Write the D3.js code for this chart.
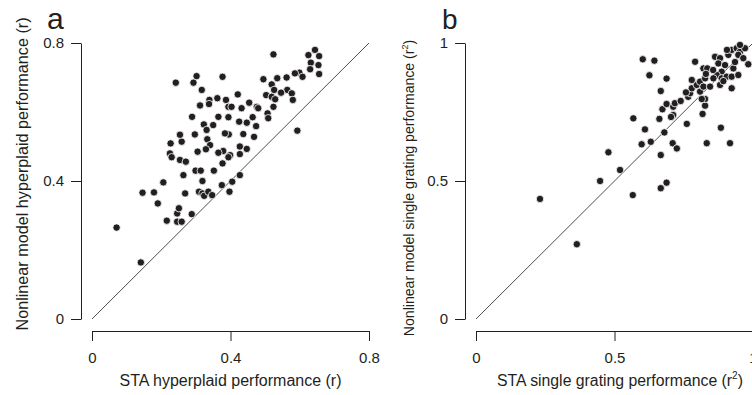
<!DOCTYPE html>
<html>
<head>
<meta charset="utf-8">
<script src="https://cdn.jsdelivr.net/npm/d3@7"></script>
<style>
  body { margin: 0; background: #fff; }
  svg { display: block; font-family: "Liberation Sans", Arial, sans-serif; }
  .axis path, .axis line { stroke: #231f20; stroke-width: 1; }
  .axis text { fill: #231f20; font-size: 15px; }
</style>
</head>
<body>
<div id="chart"></div>
<script>
// panel a: STA hyperplaid (x) vs nonlinear model hyperplaid (y), r
const hyperplaidSTA = [
  0.644, 0.625, 0.656, 0.524, 0.632, 0.654, 0.630, 0.656, 0.599, 0.608, 0.586, 0.562,
  0.535, 0.519, 0.495, 0.564, 0.546, 0.577, 0.526, 0.503, 0.519, 0.529, 0.580, 0.524,
  0.507, 0.509, 0.593, 0.421, 0.454, 0.432, 0.476, 0.480, 0.464, 0.474, 0.447, 0.437,
  0.468, 0.425, 0.377, 0.302, 0.293, 0.242, 0.317, 0.339, 0.338, 0.362, 0.387, 0.394,
  0.403, 0.312, 0.289, 0.323, 0.331, 0.350, 0.365, 0.394, 0.297, 0.333, 0.341, 0.329,
  0.395, 0.384, 0.379, 0.365, 0.399, 0.394, 0.377, 0.427, 0.427, 0.447, 0.227, 0.225,
  0.230, 0.259, 0.254, 0.305, 0.254, 0.271, 0.299, 0.314, 0.319, 0.352, 0.375, 0.405,
  0.427, 0.264, 0.269, 0.206, 0.309, 0.319, 0.324, 0.336, 0.347, 0.397, 0.146, 0.179,
  0.190, 0.216, 0.246, 0.251, 0.246, 0.259, 0.288, 0.071, 0.141
];
const hyperplaidModel = [
  0.780, 0.765, 0.762, 0.767, 0.743, 0.736, 0.724, 0.710, 0.714, 0.702, 0.712, 0.700,
  0.698, 0.680, 0.695, 0.664, 0.656, 0.654, 0.664, 0.649, 0.644, 0.637, 0.635, 0.615,
  0.596, 0.582, 0.546, 0.651, 0.627, 0.611, 0.615, 0.611, 0.585, 0.559, 0.569, 0.536,
  0.528, 0.572, 0.702, 0.704, 0.685, 0.685, 0.664, 0.635, 0.623, 0.640, 0.635, 0.615,
  0.615, 0.619, 0.586, 0.564, 0.548, 0.562, 0.586, 0.585, 0.535, 0.521, 0.504, 0.492,
  0.535, 0.538, 0.487, 0.482, 0.475, 0.469, 0.451, 0.500, 0.478, 0.493, 0.509, 0.480,
  0.469, 0.514, 0.534, 0.485, 0.461, 0.456, 0.430, 0.430, 0.400, 0.430, 0.388, 0.398,
  0.417, 0.417, 0.364, 0.396, 0.369, 0.364, 0.357, 0.369, 0.359, 0.369, 0.366, 0.367,
  0.335, 0.285, 0.306, 0.321, 0.282, 0.282, 0.304, 0.265, 0.164
];

// panel b: STA single grating (x) vs nonlinear model single grating (y), r^2
const gratingSTA = [
  0.231, 0.364, 0.448, 0.478, 0.520, 0.566, 0.667, 0.688, 0.568, 0.610, 0.598, 0.631,
  0.667, 0.680, 0.662, 0.673, 0.688, 0.712, 0.710, 0.725, 0.667, 0.688, 0.626, 0.602,
  0.644, 0.761, 0.833, 0.884, 0.917, 0.712, 0.718, 0.739, 0.818, 0.827, 0.827, 0.766,
  0.773, 0.779, 0.797, 0.809, 0.827, 0.809, 0.821, 0.845, 0.791, 0.779, 0.821, 0.835,
  0.830, 0.863, 0.881, 0.875, 0.899, 0.911, 0.923, 0.941, 0.953, 0.971, 0.947, 0.965,
  0.983, 0.929, 0.887, 0.869, 0.887, 0.905, 0.923, 0.947, 0.881, 0.923, 0.857, 0.758,
  0.815, 0.893, 0.953, 0.906, 0.935, 0.856, 0.704
];
const gratingModel = [
  0.435, 0.271, 0.500, 0.604, 0.540, 0.449, 0.474, 0.494, 0.727, 0.687, 0.633, 0.642,
  0.594, 0.676, 0.725, 0.760, 0.779, 0.739, 0.637, 0.618, 0.826, 0.871, 0.883, 0.941,
  0.936, 0.707, 0.637, 0.693, 0.637, 0.769, 0.782, 0.790, 0.743, 0.773, 0.797, 0.805,
  0.818, 0.836, 0.848, 0.860, 0.872, 0.824, 0.842, 0.842, 0.932, 0.866, 0.908, 0.908,
  0.888, 0.950, 0.945, 0.926, 0.920, 0.957, 0.975, 0.981, 0.968, 0.981, 0.957, 0.945,
  0.923, 0.908, 0.896, 0.884, 0.872, 0.878, 0.878, 0.884, 0.848, 0.836, 0.872, 0.821,
  0.797, 0.862, 0.993, 0.975, 0.931, 0.902, 0.732
];

const ticksA = [0, 0.4, 0.8];
const ticksB = [0, 0.5, 1];

const width = 752;
const height = 395;

const svg = d3.select('#chart').append('svg')
    .attr('width', width)
    .attr('height', height);

const panels = [
  {
    letter: 'a', letterX: 47, letterSize: 30,
    xs: hyperplaidSTA, ys: hyperplaidModel, ticks: ticksA, max: 0.8,
    xRange: [92, 369], yRange: [319, 43], yAxisX: 81, xAxisY: 331,
    xTitle: ['STA hyperplaid performance (r)', null], xTitleSize: 16,
    yTitle: ['Nonlinear model hyperplaid performance (r)', null], yTitleSize: 16.2,
    yTitleX: 28, yTitleY: 174
  },
  {
    letter: 'b', letterX: 442, letterSize: 28,
    xs: gratingSTA, ys: gratingModel, ticks: ticksB, max: 1,
    xRange: [476, 753], yRange: [319, 43], yAxisX: 465, xAxisY: 331,
    xTitle: ['STA single grating performance (r', ')'], xTitleSize: 15.8,
    yTitle: ['Nonlinear model single grating performance (r', ')'], yTitleSize: 14.1,
    yTitleX: 414, yTitleY: 188
  }
];

panels.forEach(p => {
  const x = d3.scaleLinear().domain([0, p.max]).range(p.xRange);
  const y = d3.scaleLinear().domain([0, p.max]).range(p.yRange);
  const g = svg.append('g');

  g.append('g')
      .attr('class', 'axis')
      .attr('transform', `translate(${p.yAxisX},0)`)
      .call(d3.axisLeft(y).tickValues(p.ticks).tickFormat(d => String(d))
        .tickSize(10).tickSizeOuter(0).tickPadding(7));

  g.append('g')
      .attr('class', 'axis')
      .attr('transform', `translate(0,${p.xAxisY})`)
      .call(d3.axisBottom(x).tickValues(p.ticks).tickFormat(d => String(d))
        .tickSize(10).tickSizeOuter(0).tickPadding(11));

  // identity line
  g.append('line')
      .attr('x1', x(0)).attr('y1', y(0))
      .attr('x2', x(p.max)).attr('y2', y(p.max))
      .attr('stroke', '#3a3a3a')
      .attr('stroke-width', 0.9);

  g.append('g')
    .selectAll('circle')
    .data(p.xs.map((v, i) => [v, p.ys[i]]))
    .enter()
    .append('circle')
      .attr('cx', d => x(d[0]))
      .attr('cy', d => y(d[1]))
      .attr('r', 3.7)
      .attr('fill', '#231f20')
      .attr('stroke', '#fff')
      .attr('stroke-width', 0.8);

  // titles
  const xt = g.append('text')
      .attr('x', (p.xRange[0] + Math.min(p.xRange[1], width)) / 2 + (p.xTitle[1] ? 6 : 0))
      .attr('y', 386)
      .attr('text-anchor', 'middle')
      .attr('fill', '#231f20')
      .style('font-size', p.xTitleSize + 'px')
      .text(p.xTitle[0]);
  if (p.xTitle[1]) {
    xt.append('tspan').attr('dy', -7).style('font-size', '10px').text('2');
    xt.append('tspan').attr('dy', 7).text(p.xTitle[1]);
  }

  const yt = g.append('text')
      .attr('transform', `translate(${p.yTitleX},${p.yTitleY}) rotate(-90)`)
      .attr('text-anchor', 'middle')
      .attr('fill', '#231f20')
      .style('font-size', p.yTitleSize + 'px')
      .text(p.yTitle[0]);
  if (p.yTitle[1]) {
    yt.append('tspan').attr('dy', -6).style('font-size', '9px').text('2');
    yt.append('tspan').attr('dy', 6).text(p.yTitle[1]);
  }

  g.append('text')
      .attr('x', p.letterX)
      .attr('y', 29)
      .attr('fill', '#231f20')
      .style('font-size', p.letterSize + 'px')
      .text(p.letter);
});
</script>
</body>
</html>
